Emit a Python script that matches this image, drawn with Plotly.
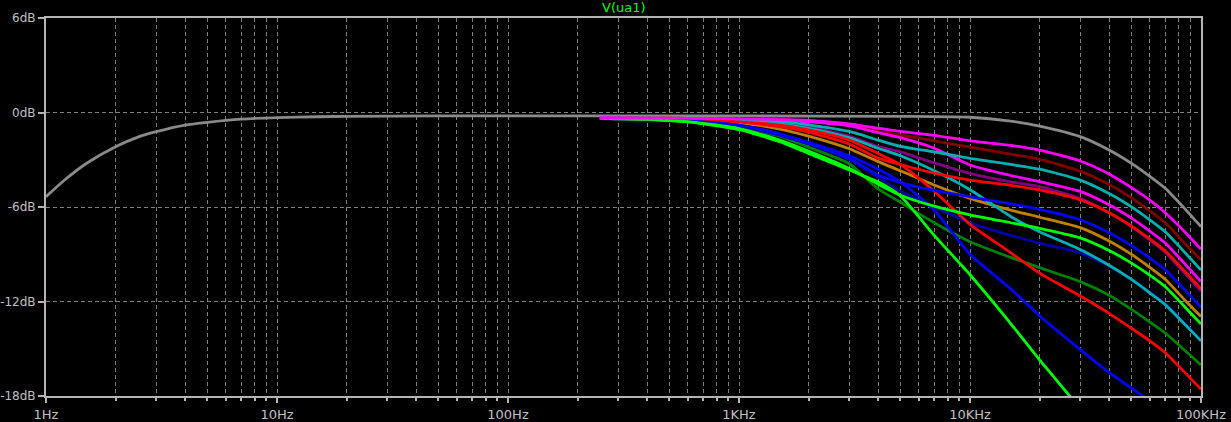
import plotly.graph_objects as go

# ---------------- data ----------------
title_text = "V(ua1)"

x_tick_vals = [1, 10, 100, 1000, 10000, 100000]
x_tick_text = ["1Hz", "10Hz", "100Hz", "1KHz", "10KHz", "100KHz"]
y_tick_vals = [6, 0, -6, -12, -18]
y_tick_text = ["6dB", "0dB", "-6dB", "-12dB", "-18dB"]

# gray trace spans the whole sweep
freq_gray = [1, 1.2, 1.5, 2, 2.5, 3, 4, 5, 7, 10, 15, 20, 50, 100, 1000, 5000,
             10000, 15000, 20000, 30000, 40000, 50000, 60000, 70000, 85000, 100000]
db_gray = [-5.35, -4.3, -3.22, -2.17, -1.56, -1.22, -0.8, -0.62, -0.42, -0.32, -0.27, -0.24,
           -0.22, -0.22, -0.22, -0.24, -0.3, -0.55, -0.86, -1.53, -2.38, -3.23, -4.05,
           -4.81, -6.1, -7.25]

# stepped traces share one frequency grid
freq_step = [250, 400, 600, 1000, 1500, 2000, 3000, 4000, 5000, 7000, 10000,
             15000, 20000, 30000, 40000, 50000, 60000, 70000, 85000, 100000]

db_lime2 = [-0.37, -0.45, -0.6, -1.08, -1.85, -2.6, -3.65, -4.4, -5.3, -7.8, -10.3,
            -13.4, -15.7, -18.8, -21.0, -22.6, -23.9, -25.0, -26.5, -28.0]
db_lime1 = [-0.37, -0.44, -0.58, -1.02, -1.75, -2.45, -3.55, -4.55, -5.25, -5.95, -6.5,
            -7.0, -7.35, -7.96, -8.76, -9.56, -10.33, -11.06, -12.33, -13.43]
db_blue2 = [-0.37, -0.41, -0.5, -0.8, -1.35, -1.9, -2.75, -3.6, -4.4, -6.2, -9.0,
            -11.2, -12.9, -15.05, -16.5, -17.5, -18.3, -19.1, -20.0, -20.7]
db_blue1 = [-0.38, -0.42, -0.52, -0.82, -1.4, -1.95, -2.9, -3.97, -4.45, -4.95, -5.35,
            -5.8, -6.15, -6.81, -7.63, -8.45, -9.24, -9.98, -11.26, -12.37]
db_navy = [-0.38, -0.42, -0.52, -0.85, -1.45, -2.0, -3.0, -4.1, -5.0, -6.0, -7.0,
           -7.8, -8.3, -8.91, -9.75, -10.6, -11.4, -12.15, -13.4, -14.49]
db_red2 = [-0.37, -0.39, -0.44, -0.55, -0.8, -1.1, -1.75, -2.6, -3.3, -5.0, -7.1,
           -8.9, -10.2, -11.65, -12.75, -13.7, -14.5, -15.25, -16.5, -17.57]
db_red1 = [-0.38, -0.4, -0.46, -0.6, -0.9, -1.25, -2.0, -2.9, -3.3, -3.85, -4.29,
           -4.62, -4.92, -5.55, -6.36, -7.21, -8.03, -8.79, -10.08, -11.2]
db_orange = [-0.38, -0.41, -0.48, -0.65, -1.05, -1.5, -2.3, -3.12, -3.7, -4.6, -5.45,
             -6.2, -6.65, -7.31, -8.16, -9.01, -9.83, -10.59, -11.9, -12.96]
db_cyan2 = [-0.37, -0.39, -0.43, -0.52, -0.72, -1.0, -1.6, -2.27, -2.75, -3.7, -4.9,
            -6.6, -7.57, -8.7, -9.7, -10.6, -11.45, -12.2, -13.45, -14.5]
db_purple = [-0.37, -0.38, -0.41, -0.48, -0.65, -0.9, -1.5, -2.17, -2.5, -3.2, -3.86,
             -4.4, -4.7, -5.46, -6.36, -7.24, -8.09, -8.87, -10.2, -11.33]
db_cyan1 = [-0.36, -0.37, -0.39, -0.45, -0.58, -0.78, -1.2, -1.75, -2.15, -2.5, -2.91,
            -3.3, -3.6, -4.29, -5.14, -5.99, -6.81, -7.57, -8.88, -10.0]
db_magenta2 = [-0.36, -0.37, -0.38, -0.42, -0.5, -0.6, -0.85, -1.28, -1.6, -2.27, -3.33,
               -4.0, -4.39, -5.01, -5.86, -6.71, -7.53, -8.29, -9.6, -10.73]
db_maroon = [-0.36, -0.36, -0.37, -0.4, -0.46, -0.55, -0.75, -1.2, -1.43, -1.8, -2.2,
             -2.65, -2.97, -3.72, -4.57, -5.42, -6.24, -7.0, -8.3, -9.37]
db_magenta1 = [-0.35, -0.36, -0.37, -0.4, -0.45, -0.5, -0.72, -1.0, -1.2, -1.45, -1.8,
               -2.09, -2.39, -3.08, -3.9, -4.77, -5.56, -6.36, -7.57, -8.69]
db_dkgreen = [-0.38, -0.42, -0.53, -0.85, -1.5, -2.2, -3.25, -4.85, -5.7, -7.0, -8.2,
              -9.2, -9.85, -10.74, -11.6, -12.5, -13.3, -14.0, -15.1, -16.03]

step_series = [
    (db_dkgreen, "#008000"),
    (db_navy, "#0000a8"),
    (db_purple, "#800080"),
    (db_orange, "#c08000"),
    (db_maroon, "#800000"),
    (db_cyan2, "#00b0b0"),
    (db_magenta2, "#ff00ff"),
    (db_red2, "#ff0000"),
    (db_blue2, "#0000ff"),
    (db_lime2, "#00ff00"),
    (db_cyan1, "#00b0b0"),
    (db_red1, "#ff0000"),
    (db_blue1, "#0000ff"),
    (db_lime1, "#00ff00"),
    (db_magenta1, "#ff00ff"),
]

# ---------------- figure ----------------
fig = go.Figure()
fig.add_trace(go.Scatter(x=freq_gray, y=db_gray, mode="lines",
                         line=dict(color="#8a8a8a", width=2.8, shape="spline", smoothing=0.6),
                         hoverinfo="skip"))
for vals, col in step_series:
    fig.add_trace(go.Scatter(x=freq_step, y=vals, mode="lines",
                             line=dict(color=col, width=2.8, shape="spline", smoothing=0.6),
                             hoverinfo="skip"))

minor_vals = [m * 10 ** d for d in range(0, 5) for m in range(2, 10)]

frame_col = "#b4b4b4"
grid_col = "#808080"
font_main = dict(family="DejaVu Sans", size=13, color="#c0c0c0")
font_y = dict(family="DejaVu Sans", size=12, color="#c0c0c0")

fig.update_layout(
    width=1231, height=422,
    margin=dict(l=46, r=30, t=18, b=26, autoexpand=False),
    paper_bgcolor="#000000", plot_bgcolor="#000000",
    showlegend=False, hovermode=False,
    font=font_main,
    annotations=[dict(text=title_text, x=0.5, xref="paper", y=1.027, yref="paper",
                      xanchor="center", yanchor="middle", showarrow=False,
                      font=dict(family="DejaVu Sans", size=13, color="#00ff00"))],
)
fig.update_xaxes(
    type="log", range=[0, 5], automargin=False,
    tickmode="array", tickvals=x_tick_vals, ticktext=x_tick_text,
    ticks="outside", ticklen=5, tickwidth=2, tickcolor=frame_col,
    showline=True, linecolor=frame_col, linewidth=2, mirror=True,
    showgrid=True, gridcolor=grid_col, gridwidth=1, griddash="4px,3px",
    minor=dict(tickmode="array", tickvals=minor_vals, ticks="outside", ticklen=3,
               tickwidth=2, tickcolor=frame_col, showgrid=True, gridcolor=grid_col,
               gridwidth=1, griddash="4px,3px"),
    zeroline=False, tickfont=font_main,
)
fig.update_yaxes(
    range=[-18, 6], automargin=False,
    tickmode="array", tickvals=y_tick_vals, ticktext=y_tick_text,
    ticks="outside", ticklen=6, tickwidth=2, tickcolor=frame_col,
    showline=True, linecolor=frame_col, linewidth=2, mirror=True,
    showgrid=True, gridcolor=grid_col, gridwidth=1, griddash="4px,3px",
    zeroline=False, tickfont=font_y,
)

fig.write_html(
    "out.html",
    config={"displayModeBar": False},
    post_script="document.body.style.margin='0';document.body.style.background='#000';",
)
